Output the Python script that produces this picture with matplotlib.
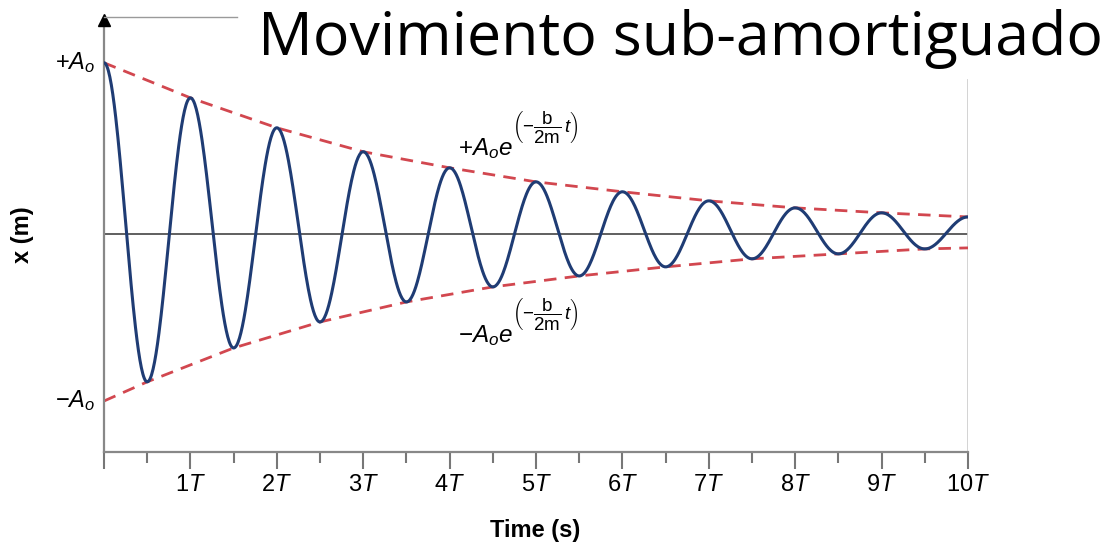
import numpy as np
import matplotlib
matplotlib.use("Agg")
import matplotlib.pyplot as plt
from matplotlib.lines import Line2D

plt.rcParams["font.family"] = ["Liberation Sans", "DejaVu Sans"]
plt.rcParams["mathtext.fontset"] = "custom"
plt.rcParams["mathtext.rm"] = "Liberation Sans"
plt.rcParams["mathtext.it"] = "Liberation Sans:italic"
plt.rcParams["mathtext.bf"] = "Liberation Sans:bold"

# ---- data (units of A0, time in periods T) ----
peak_t = [0, 1, 2, 3, 4, 5, 6, 7, 8, 9, 10]
peak_x = [1.0, 0.795, 0.62, 0.48, 0.386, 0.304, 0.246, 0.193, 0.152, 0.123, 0.099]
trough_t = [0.5, 1.5, 2.5, 3.5, 4.5, 5.5, 6.5, 7.5, 8.5, 9.5]
trough_x = [-0.865, -0.667, -0.515, -0.398, -0.31, -0.246, -0.193, -0.146, -0.117, -0.088]
lower_env_t = [0] + trough_t + [10]
lower_env_x = [-0.977] + trough_x + [-0.082]
tick_labels = ["1$\\it{T}$", "2$\\it{T}$", "3$\\it{T}$", "4$\\it{T}$", "5$\\it{T}$",
               "6$\\it{T}$", "7$\\it{T}$", "8$\\it{T}$", "9$\\it{T}$", "10$\\it{T}$"]

# extrema in time order, joined by half-cosine segments
ext_t = np.array(sorted(peak_t + trough_t), dtype=float)
ext_x = np.array([dict(zip(peak_t + trough_t, peak_x + trough_x))[t] for t in ext_t])

wave_t, wave_x = [], []
for i in range(len(ext_t) - 1):
    s = np.linspace(0, 1, 60)
    a, b = ext_x[i], ext_x[i + 1]
    wave_t.extend(ext_t[i] + s * (ext_t[i + 1] - ext_t[i]))
    wave_x.extend((a + b) / 2 + (a - b) / 2 * np.cos(np.pi * s))

W, H = 1114, 546
fig = plt.figure(figsize=(W / 100, H / 100), dpi=100)
ax = fig.add_axes([104 / W, 1 - 452 / H, (968 - 104) / W, (452 - 20) / H])

ymin, ymax = -1.275, 1.25
ax.set_xlim(0, 10)
ax.set_ylim(ymin, ymax)

red = "#d2474f"
blue = "#1f3c74"

ax.axhline(0, color="#444444", lw=1.2, zorder=1)
ax.axvline(10, ymin=0, ymax=0.86, color="#cfcfcf", lw=2, zorder=1)
ax.plot(peak_t, peak_x, ls=(0, (4.5, 3)), color=red, lw=2, zorder=2)
ax.plot(lower_env_t, lower_env_x, ls=(0, (4.5, 3)), color=red, lw=2, zorder=2)
ax.plot(wave_t, wave_x, color=blue, lw=2.2, zorder=3)

# axes styling
for s in ["top", "right"]:
    ax.spines[s].set_visible(False)
ax.spines["left"].set_color("#888888")
ax.spines["left"].set_linewidth(1.6)
ax.spines["bottom"].set_color("#888888")
ax.spines["bottom"].set_linewidth(1.6)
ax.plot(0, ymax, marker="^", color="black", markersize=8, clip_on=False, zorder=5)

ax.set_yticks([])
ax.set_xticks(range(0, 11))
ax.set_xticklabels([""] + tick_labels, fontsize=17)
ax.set_xticks(np.arange(0.5, 10, 1), minor=True)
ax.tick_params(axis="x", which="major", length=12, width=1.5, color="#777777", pad=4)
ax.tick_params(axis="x", which="minor", length=8, width=1.5, color="#777777")

ax.text(-0.1, 1.0, "+$\\mathit{A_o}$", fontsize=17, ha="right", va="center")
ax.text(-0.1, -0.977, "\u2212$\\mathit{A_o}$", fontsize=17, ha="right", va="center")

# envelope formulas: base + raised exponent
expo = "$\\left(-\\dfrac{\\mathrm{b}}{\\mathrm{2m}}\\,\\mathit{t}\\right)$"
for sign, yb in [("+", 0.462), ("\u2212", -0.63)]:
    ax.text(4.1, yb, sign + "$\\mathit{A_o}e$", fontsize=17.5, ha="left", va="baseline")
    ax.annotate(expo, xy=(4.1, yb), xytext=(39, 20), textcoords="offset points",
                fontsize=13.5, ha="left", va="center")

fig.text(535 / W, 1 - 530 / H, "Time (s)", fontsize=17, fontweight="bold",
         ha="center", va="center")
fig.text(22 / W, 1 - 235 / H, "x (m)", fontsize=17, fontweight="bold",
         ha="center", va="center", rotation=90)

fig.add_artist(Line2D([104 / W, 237 / W], [1 - 17 / H, 1 - 17 / H],
                      color="#9a9a9a", lw=1))
fig.text(258 / W, 1 - 55 / H, "Movimiento sub-amortiguado", fontsize=43.8,
         family=["Open Sans", "DejaVu Sans"], ha="left", va="baseline")

fig.savefig("out.png", dpi=100)
